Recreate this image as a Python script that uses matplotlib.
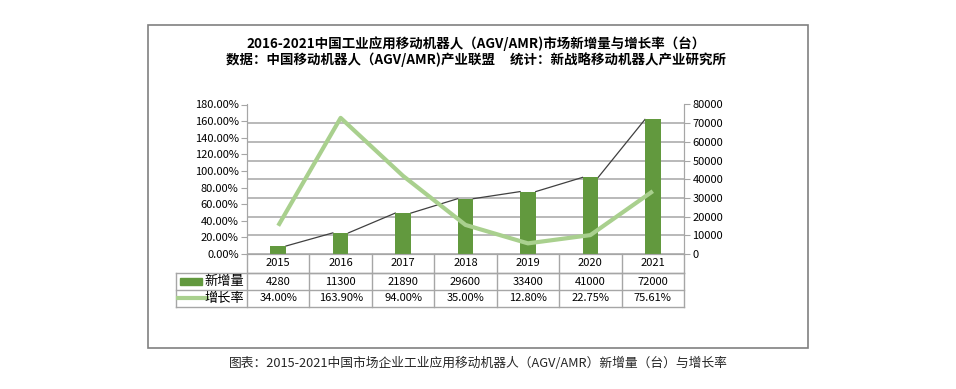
import numpy as np
import matplotlib
matplotlib.use('Agg')
import matplotlib.pyplot as plt
import matplotlib.transforms as mtransforms
from matplotlib.patches import Rectangle

plt.rcParams['font.family'] = ['Noto Sans CJK SC', 'DejaVu Sans']

years = ['2015', '2016', '2017', '2018', '2019', '2020', '2021']
new_units = [4280, 11300, 21890, 29600, 33400, 41000, 72000]
growth = [34.00, 163.90, 94.00, 35.00, 12.80, 22.75, 75.61]
growth_labels = ['34.00%', '163.90%', '94.00%', '35.00%', '12.80%', '22.75%', '75.61%']

title1 = '2016-2021中国工业应用移动机器人（AGV/AMR)市场新增量与增长率（台）'
title2 = '数据：中国移动机器人（AGV/AMR)产业联盟     统计：新战略移动机器人产业研究所'
caption = '图表：2015-2021中国市场企业工业应用移动机器人（AGV/AMR）新增量（台）与增长率'

bar_color = '#62993e'
line_color = '#a9d08e'
grid_color = '#a6a6a6'
W, H = 956, 389

fig = plt.figure(figsize=(W / 100, H / 100), dpi=100)

# outer frame
fig.patches.append(Rectangle((148 / W, 1 - 348 / H), (808 - 148) / W, (348 - 25) / H,
                             transform=fig.transFigure, fill=False, ec='#808080', lw=1.2))

fig.text(476 / W, 1 - 44 / H, title1, ha='center', va='center', fontsize=9.7, fontweight='bold')
fig.text(476 / W, 1 - 60 / H, title2, ha='center', va='center', fontsize=9.7, fontweight='bold')
fig.text(478 / W, 1 - 363 / H, caption, ha='center', va='center', fontsize=9.2,
         color='#262626', fontweight='medium')

left, right, top, bottom = 247, 684, 104.5, 254
ax = fig.add_axes([left / W, 1 - bottom / H, (right - left) / W, (bottom - top) / H])
x = np.arange(len(years))
bw = 0.25

# bars on the count axis (right side)
ax.bar(x, new_units, width=bw, color=bar_color, zorder=3)
for i in range(len(x) - 1):
    ax.plot([x[i] + bw / 2, x[i + 1] - bw / 2], [new_units[i], new_units[i + 1]],
            color='#404040', lw=0.9, zorder=2)
ax.set_xlim(-0.5, len(x) - 0.5)
ax.set_ylim(0, 80000)
ax.set_yticks(np.arange(0, 80001, 10000))
ax.set_xticks([])
ax.grid(axis='y', color=grid_color, lw=1.1, zorder=0)
ax.set_axisbelow(True)

ax2 = ax.twinx()
ax2.plot(x, growth, color=line_color, lw=3, solid_capstyle='butt', zorder=4)
ax2.set_ylim(0, 180)
ax2.set_yticks(np.arange(0, 181, 20))
ax2.set_yticklabels(['%.2f%%' % v for v in np.arange(0, 181, 20)])
ax2.yaxis.tick_left()
ax.yaxis.tick_right()
for a in (ax, ax2):
    a.tick_params(axis='y', labelsize=8, length=4, color=grid_color, pad=2)
    for s in a.spines.values():
        s.set_color(grid_color)
    a.spines['top'].set_visible(False)

# data table under the axis
trans = mtransforms.blended_transform_factory(ax.transData, ax.transAxes)
rows = [0, -0.127, -0.241, -0.353]
xl = -1.64
kw = dict(color=grid_color, lw=1, transform=trans, clip_on=False)
ax.plot([-0.5, 6.5], [rows[1]] * 2, **kw)
for r in rows[1:]:
    ax.plot([xl, 6.5], [r, r], **kw)
ax.plot([xl, xl], [rows[1], rows[3]], **kw)
for k in range(len(x) + 1):
    ax.plot([k - 0.5, k - 0.5], [rows[0], rows[3]], **kw)

tkw = dict(ha='center', va='center', fontsize=8, transform=trans)
for i in range(len(x)):
    ax.text(x[i], (rows[0] + rows[1]) / 2, years[i], **tkw)
    ax.text(x[i], (rows[1] + rows[2]) / 2, str(new_units[i]), **tkw)
    ax.text(x[i], (rows[2] + rows[3]) / 2, growth_labels[i], **tkw)

# legend keys in the table
ym1 = (rows[1] + rows[2]) / 2
ym2 = (rows[2] + rows[3]) / 2
ax.add_patch(Rectangle((-1.58, ym1 - 0.022), 0.36, 0.044, color=bar_color,
                       transform=trans, clip_on=False))
ax.plot([-1.61, -1.14], [ym2, ym2], color=line_color, lw=3, transform=trans, clip_on=False)
ax.text(-0.55, ym1, '新增量', ha='right', va='center', fontsize=9.5, transform=trans)
ax.text(-0.55, ym2, '增长率', ha='right', va='center', fontsize=9.5, transform=trans)

fig.savefig('out.png', dpi=100)
